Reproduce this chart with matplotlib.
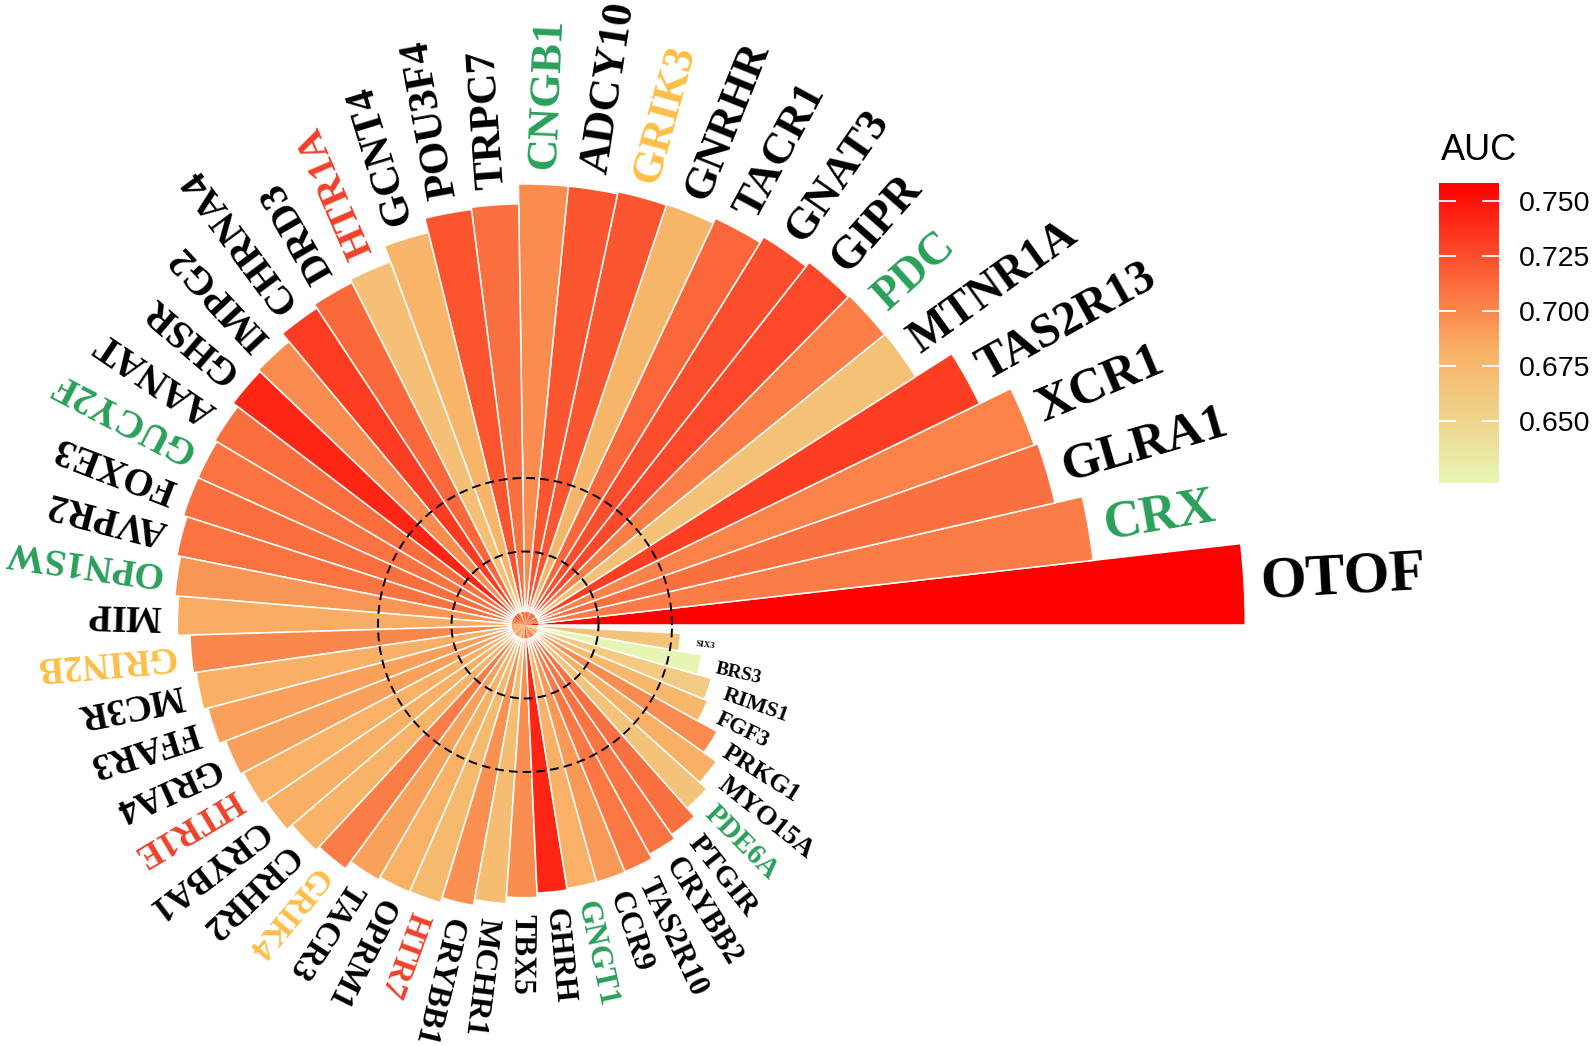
import numpy as np
import matplotlib
matplotlib.use("Agg")
import matplotlib.pyplot as plt
from matplotlib.colors import LinearSegmentedColormap, Normalize
from matplotlib.cm import ScalarMappable

# ---------------- data ----------------
genes = ["OTOF", "CRX", "GLRA1", "XCR1", "TAS2R13", "MTNR1A", "PDC", "GIPR", "GNAT3",
         "TACR1", "GNRHR", "GRIK3", "ADCY10", "CNGB1", "TRPC7", "POU3F4", "GCNT4",
         "HTR1A", "DRD3", "CHRNA4", "IMPG2", "GHSR", "AANAT", "GUCY2F", "FOXE3",
         "AVPR2", "OPN1SW", "MIP", "GRIN2B", "MC3R", "FFAR3", "GRIA4", "HTR1E",
         "CRYBA1", "CRHR2", "GRIK4", "TACR3", "OPRM1", "HTR7", "CRYBB1", "MCHR1",
         "TBX5", "GHRH", "GNGT1", "CCR9", "TAS2R10", "CRYBB2", "PTGIR", "PDE6A",
         "MYO15A", "PRKG1", "FGF3", "RIMS1", "BRS3", "SIX3"]

score = [9.80, 7.78, 7.40, 7.35, 6.88, 6.30, 6.29, 6.27, 6.20,
         6.11, 6.04, 6.03, 6.00, 6.00, 5.73, 5.70, 5.50,
         5.27, 5.22, 5.16, 5.02, 4.99, 4.91, 4.88, 4.88,
         4.83, 4.78, 4.73, 4.56, 4.52, 4.46, 4.37, 4.33,
         4.27, 4.18, 4.12, 4.00, 3.96, 3.95, 3.88, 3.80,
         3.71, 3.65, 3.63, 3.63, 3.62, 3.55, 3.48, 3.33,
         3.20, 2.99, 2.69, 2.64, 2.44, 2.12]

auc = [0.758, 0.705, 0.710, 0.702, 0.731, 0.668, 0.704, 0.727, 0.725,
       0.714, 0.678, 0.721, 0.721, 0.698, 0.710, 0.722, 0.679,
       0.669, 0.713, 0.732, 0.698, 0.742, 0.711, 0.709, 0.711,
       0.709, 0.694, 0.684, 0.700, 0.683, 0.690, 0.689, 0.682,
       0.683, 0.680, 0.705, 0.689, 0.682, 0.674, 0.696, 0.672,
       0.697, 0.742, 0.681, 0.693, 0.707, 0.709, 0.710, 0.666,
       0.683, 0.699, 0.676, 0.660, 0.622, 0.666]

green_genes = ["CRX", "PDC", "CNGB1", "GUCY2F", "OPN1SW", "GNGT1", "PDE6A"]
gold_genes = ["GRIK3", "GRIN2B", "GRIK4"]
red_genes = ["HTR1A", "HTR1E", "HTR7"]

cbar_ticks = [0.650, 0.675, 0.700, 0.725, 0.750]
ref_circles = [1, 2]

# ---------------- style ----------------
W, H = 1594, 1046
PX_PER_UNIT = 73.5
RMAX = 10.0
CX, CY = 525, 625          # centre of the polar plot (pixels from top-left)

cmap = LinearSegmentedColormap.from_list(
    "auc", [(0.0, "#E6F6B2"), (0.45, "#F9AF63"), (1.0, "#FF0000")])
norm = Normalize(vmin=min(auc), vmax=max(auc))

fig = plt.figure(figsize=(W / 100, H / 100), dpi=100)
R = RMAX * PX_PER_UNIT
ax = fig.add_axes([(CX - R) / W, (H - CY - R) / H, 2 * R / W, 2 * R / H],
                  projection="polar")
ax.set_ylim(0, RMAX)
ax.set_axis_off()

n = len(genes)
slot = np.deg2rad(6.49)
theta = (np.arange(n) + 0.5) * slot
fill = cmap(norm(np.array(auc)))

ax.bar(theta, score, width=slot, bottom=0, color=fill,
       edgecolor="white", linewidth=1.1, align="center", zorder=1)
# inner part of the same bars without outline, so the centre stays coloured
ax.bar(theta, np.minimum(score, 0.18), width=slot, bottom=0, color=fill,
       edgecolor="none", linewidth=0, align="center", zorder=1.5)

tt = np.linspace(0, 2 * np.pi, 600)
for rc in ref_circles:
    ax.plot(tt, np.full_like(tt, rc), color="black", lw=1.4,
            ls=(0, (4.5, 2.6)), zorder=3)

smin, smax = min(score), max(score)
pad = 16 / PX_PER_UNIT
for th, s, g in zip(theta, score, genes):
    em_px = 9 + 18.0 * np.sqrt(s - smin)
    fs = em_px * 0.72
    if g in green_genes:
        col = "#29A05A"
    elif g in gold_genes:
        col = "#FDBF47"
    elif g in red_genes:
        col = "#F0412A"
    else:
        col = "black"
    ax.text(th, s + pad, g, rotation=np.rad2deg(th), rotation_mode="anchor",
            ha="left", va="center", fontsize=fs, fontweight="bold",
            family="Liberation Serif", color=col, clip_on=False, zorder=4)

# ---------------- colour bar ----------------
cax = fig.add_axes([1439 / W, (H - 483) / H, 60 / W, 300 / H])
sm = ScalarMappable(norm=norm, cmap=cmap)
cb = fig.colorbar(sm, cax=cax, ticks=cbar_ticks)
cb.outline.set_visible(False)
cb.ax.set_yticklabels([f"{t:.3f}" for t in cbar_ticks])
cb.ax.tick_params(direction="in", color="white", length=12, width=1.3,
                  left=True, right=True, labelleft=False, labelright=True,
                  labelsize=20.5, pad=14)
for lab in cb.ax.get_yticklabels():
    lab.set_family("Liberation Sans")
fig.text(1441 / W, 1 - 160 / H, "AUC", fontsize=26, family="Liberation Sans",
         ha="left", va="baseline")

fig.savefig("out.png", dpi=100)
